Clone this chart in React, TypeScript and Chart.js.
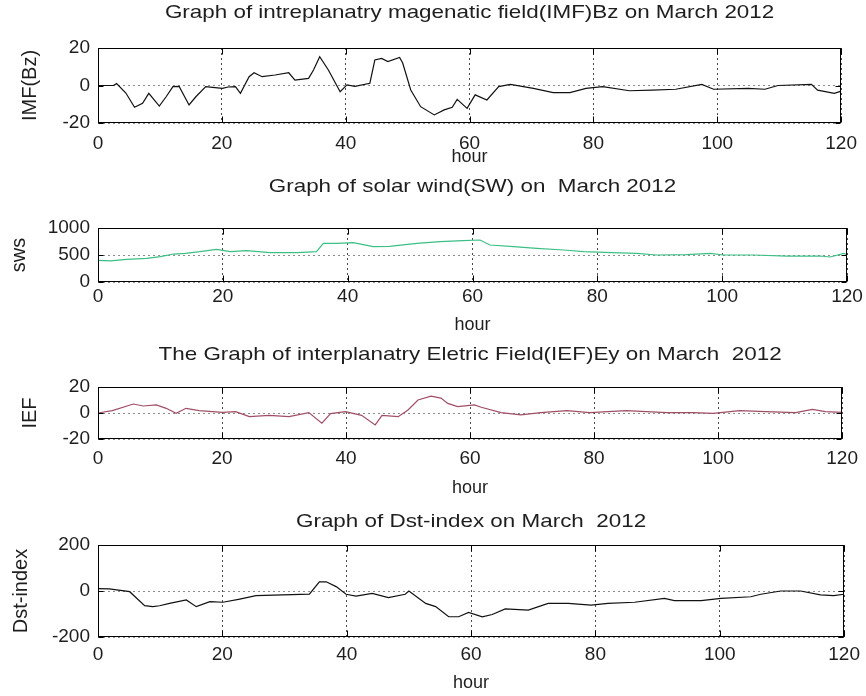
import React, { useEffect, useRef } from "react";
import { Chart, registerables } from "chart.js";

Chart.register(...registerables);

// ---------- data ----------
const xTicks = [0, 20, 40, 60, 80, 100, 120];

const imfHours = [0, 2.5, 3, 4.5, 5.9, 7.2, 8.2, 9.9, 11, 12.1, 13.1, 14.7, 15.8, 17.4, 18.5, 20.1, 21, 22.2, 23, 24.4, 25.2, 26.5, 28.6, 30.8, 31.8, 34, 34.8, 35.8, 37.2, 39.1, 40.2, 41.5, 43.9, 44.7, 45.8, 46.8, 48.7, 49.2, 50.5, 52.1, 54.3, 55.9, 57.2, 58, 59.6, 60.9, 62.8, 64.7, 66.6, 70.3, 73.5, 76.2, 78.8, 81.5, 85.8, 89.5, 93.3, 97.5, 99.4, 105, 107.7, 109.8, 115.2, 116.2, 118.9, 120];
const imfBz = [0, 0, 1, -4, -11.6, -9.5, -4.2, -11, -6, -0.6, -0.5, -10.4, -6, -0.6, -1, -1.5, -0.8, -0.6, -4.2, 4.7, 6.8, 4.7, 5.6, 6.8, 2.9, 3.8, 8.3, 15.4, 8.3, -3.3, 0.3, -0.5, 1.2, 13.6, 14.4, 12.8, 15, 12, -2.4, -11.3, -15.7, -13, -11.6, -7.4, -12.2, -5, -7.7, -0.6, 0.6, -1.5, -3.8, -3.8, -1.5, -0.6, -2.8, -2.5, -2, 0.6, -2, -1.5, -2, 0, 0.6, -2.5, -4.2, -3];

const swHours = [0, 2, 4.6, 7.8, 10, 12.1, 14, 16.3, 19, 21.2, 23.8, 27.6, 31.9, 35, 36.1, 38.3, 40.9, 44.1, 46.7, 51.1, 54.8, 58.5, 61.2, 62.8, 66.6, 70.3, 74.6, 77.8, 82.3, 86.3, 89.5, 94.3, 98.1, 100.2, 105, 110.4, 115.7, 117.3, 119.5, 120];
const swSpeed = [400, 390, 420, 438, 470, 518, 530, 561, 605, 561, 580, 543, 543, 561, 716, 716, 728, 654, 660, 716, 747, 765, 778, 685, 654, 623, 593, 561, 543, 531, 500, 506, 531, 500, 500, 481, 481, 463, 531, 500];

const iefHours = [0, 2.3, 5.7, 7.3, 9.4, 11, 12.6, 14.2, 16.3, 20.1, 22.2, 24.4, 27.6, 30.8, 34, 36.1, 37.5, 39.9, 42.5, 44.7, 45.8, 48.4, 50, 51.6, 53.7, 55.3, 56.4, 58, 60.7, 61.8, 65, 68.2, 71.4, 75.6, 79.3, 85.2, 91.7, 96, 99.2, 103.5, 107.7, 112.5, 115.2, 117.3, 120];
const iefEy = [0, 1.8, 6.9, 5.4, 6.2, 3.6, -0.3, 3.6, 1.8, 0.5, 1, -2.8, -1.8, -2.8, 0.3, -7.9, -0.5, 1, -1.8, -9.2, -1.8, -2.8, 2.3, 10, 13, 11.5, 7.4, 4.9, 6.2, 4.4, 0.3, -1.5, 0.3, 1.8, 0.3, 1.8, 0.3, 0.3, -0.3, 1.8, 1, 0.3, 2.8, 1, 0.5];

const dstHours = [0, 1.8, 5.1, 7.5, 8.8, 9.9, 11.5, 14.2, 15.8, 18, 20.1, 22.8, 25.4, 29.7, 34, 35.6, 36.7, 38.3, 39.9, 41.5, 44.1, 46.7, 49.4, 50, 52.7, 54.3, 56.4, 58, 59.6, 61.8, 63.4, 65.5, 69.2, 72.4, 75.6, 79.3, 82, 86.3, 91.1, 92.7, 97, 100.2, 105, 106.6, 109.8, 113, 116.2, 118.3, 120];
const dstIndex = [10, 9, -3, -64, -68, -64, -54, -39, -68, -46, -49, -35, -20, -17, -14, 40, 40, 19, -14, -22, -10, -29, -14, 0, -54, -68, -112, -112, -93, -112, -102, -78, -83, -54, -54, -61, -54, -49, -32, -42, -42, -32, -25, -14, 0, 0, -17, -20, -14];

const titles = [
  "Graph of intreplanatry magenatic field(IMF)Bz on March 2012",
  "Graph of solar wind(SW) on  March 2012",
  "The Graph of interplanatry Eletric Field(IEF)Ey on March  2012",
  "Graph of Dst-index on March  2012",
];
const yLabels = ["IMF(Bz)", "sws", "IEF", "Dst-index"];
const xLabel = "hour";
const yRanges = [
  [-20, 20, 20],
  [0, 1000, 500],
  [-20, 20, 20],
  [-200, 200, 200],
];

// ---------- layout / style ----------
const FONT = "'Liberation Sans', Arial, sans-serif";
const TXT = "#1e1e1e";

type PanelLayout = {
  top: number; h: number; areaTop: number; areaBottom: number;
  titleY: number; tickPad: number; hourY: number; yLabelX: number;
};

const layouts: PanelLayout[] = [
  { top: 0, h: 172, areaTop: 48, areaBottom: 123, titleY: 13, tickPad: 9, hourY: 157, yLabelX: 30 },
  { top: 172, h: 165, areaTop: 56, areaBottom: 110, titleY: 15, tickPad: 3, hourY: 153, yLabelX: 19 },
  { top: 337, h: 166, areaTop: 50, areaBottom: 102, titleY: 18, tickPad: 8, hourY: 151, yLabelX: 30 },
  { top: 503, h: 193, areaTop: 42, areaBottom: 134, titleY: 19, tickPad: 6, hourY: 180, yLabelX: 21 },
];

const lineColors = ["#111111", "#3cbf84", "#a04e66", "#111111"];

function framePlugin(title: string, titleY: number) {
  return {
    id: "frame",
    afterDraw(chart: any) {
      const { ctx, chartArea: a, scales } = chart;
      ctx.save();
      ctx.strokeStyle = "#000";
      ctx.lineWidth = 1;
      ctx.setLineDash([]);
      const L = Math.round(a.left) + 0.5;
      const R = Math.round(a.right) - 0.5;
      const T = Math.round(a.top) + 0.5;
      const B = Math.round(a.bottom) - 0.5;
      ctx.strokeRect(L, T, R - L, B - T);
      ctx.beginPath();
      const xs = scales.x;
      xs.ticks.forEach((t: any) => {
        const px = Math.round(xs.getPixelForValue(t.value)) + 0.5;
        ctx.moveTo(px, B);
        ctx.lineTo(px, B - 6);
        ctx.moveTo(px, T);
        ctx.lineTo(px, T + 6);
      });
      const ys = scales.y;
      ys.ticks.forEach((t: any) => {
        const py = Math.round(ys.getPixelForValue(t.value)) + 0.5;
        ctx.moveTo(L, py);
        ctx.lineTo(L + 5, py);
        ctx.moveTo(R, py);
        ctx.lineTo(R - 5, py);
      });
      ctx.stroke();
      ctx.fillStyle = TXT;
      ctx.font = `19px ${FONT}`;
      ctx.textAlign = "center";
      ctx.textBaseline = "middle";
      ctx.translate((a.left + a.right) / 2, titleY);
      ctx.scale(1.18, 1);
      ctx.fillText(title, 0, 0);
      ctx.restore();
    },
  };
}

function Panel({ idx, xs, ys }: { idx: number; xs: number[]; ys: number[] }) {
  const ref = useRef<HTMLCanvasElement>(null);
  const lay = layouts[idx];
  useEffect(() => {
    const [ymin, ymax, ystep] = yRanges[idx];
    const tickFont = { family: FONT, size: 19 };
    const chart = new Chart(ref.current as HTMLCanvasElement, {
      type: "line",
      data: {
        datasets: [
          {
            data: xs.map((x, i) => ({ x, y: ys[i] })),
            borderColor: lineColors[idx],
            borderWidth: 1.2,
            pointRadius: 0,
            tension: 0,
            fill: false,
          },
        ],
      },
      options: {
        animation: false,
        responsive: false,
        maintainAspectRatio: false,
        events: [],
        layout: { padding: { top: lay.areaTop, left: 0, right: 19, bottom: 0 } },
        plugins: {
          legend: { display: false },
          tooltip: { enabled: false },
          title: { display: false },
        },
        scales: {
          x: {
            type: "linear",
            min: 0,
            max: 120,
            afterBuildTicks: (s: any) => {
              s.ticks = xTicks.map((v) => ({ value: v }));
            },
            ticks: {
              font: tickFont, color: TXT, padding: lay.tickPad, maxRotation: 0, autoSkip: false,
              callback: (v: any) => String(v),
            },
            grid: { color: "rgba(0,0,0,0.7)", lineWidth: 1, drawTicks: false },
            border: { display: false, dash: [2, 3] },
            title: {
              display: true,
              text: xLabel,
              font: { family: FONT, size: 18 },
              color: TXT,
              padding: { top: 0, bottom: lay.h - lay.hourY - 10.8 },
            },
            afterFit: (s: any) => {
              s.height = lay.h - lay.areaBottom;
            },
          },
          y: {
            type: "linear",
            min: ymin,
            max: ymax,
            ticks: { stepSize: ystep, font: tickFont, color: TXT, padding: 8, callback: (v: any) => String(v) },
            grid: { color: "rgba(0,0,0,0.45)", lineWidth: 1, drawTicks: false },
            border: { display: false, dash: [2, 3] },
            title: {
              display: true,
              text: yLabels[idx],
              font: { family: FONT, size: 20 },
              color: TXT,
              padding: { top: lay.yLabelX - 12, bottom: 0 },
            },
            afterFit: (s: any) => {
              s.width = 98;
            },
          },
        },
      } as any,
      plugins: [framePlugin(titles[idx], lay.titleY)],
    });
    return () => chart.destroy();
  }, []);
  return (
    <canvas
      ref={ref}
      width={866}
      height={lay.h}
      style={{ position: "absolute", left: 0, top: lay.top, width: 866, height: lay.h, display: "block" }}
    />
  );
}

export default function App() {
  return (
    <div style={{ position: "absolute", left: 0, top: 0, width: 866, height: 696, background: "#fff" }}>
      <Panel idx={0} xs={imfHours} ys={imfBz} />
      <Panel idx={1} xs={swHours} ys={swSpeed} />
      <Panel idx={2} xs={iefHours} ys={iefEy} />
      <Panel idx={3} xs={dstHours} ys={dstIndex} />
    </div>
  );
}
